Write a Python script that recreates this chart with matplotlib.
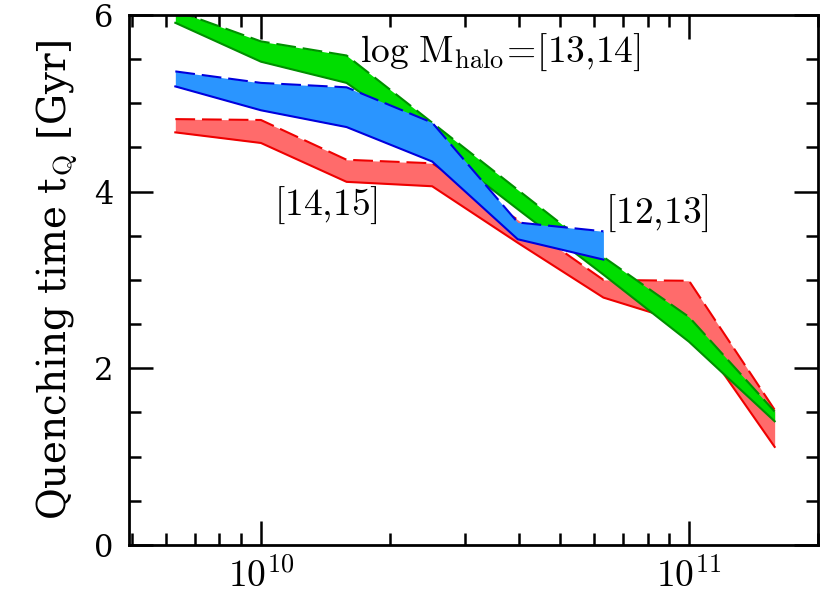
# Quenching time vs stellar mass for three halo mass bins.

import matplotlib
matplotlib.use('Agg')
import numpy as np
import matplotlib.pyplot as plt
from matplotlib.ticker import FixedLocator, NullFormatter, FuncFormatter

plt.rcParams['mathtext.fontset'] = 'cm'
plt.rcParams['font.family'] = 'DejaVu Serif'

# stellar mass bin centres (log spacing of 0.2 dex)
mstar = [6.31e9, 1.0e10, 1.585e10, 2.512e10, 3.981e10, 6.31e10, 1.0e11, 1.585e11]

# log Mhalo = [14,15]
red_lo = [4.67, 4.55, 4.11, 4.06, 3.42, 2.80, 2.50, 1.11]
red_hi = [4.82, 4.81, 4.36, 4.32, 3.68, 3.00, 2.99, 1.53]

# log Mhalo = [13,14]
green_lo = [5.91, 5.47, 5.23, 4.55, 3.80, 3.06, 2.30, 1.40]
green_hi = [6.05, 5.70, 5.54, 4.78, 4.02, 3.26, 2.58, 1.51]

# log Mhalo = [12,13]
blue_m = mstar[:6]
blue_lo = [5.19, 4.92, 4.73, 4.34, 3.46, 3.23]
blue_hi = [5.36, 5.23, 5.18, 4.78, 3.65, 3.55]

bands = [
    (mstar, red_lo, red_hi, '#ff6b6b', '#ee0000'),
    (mstar, green_lo, green_hi, '#00dd00', '#008f00'),
    (blue_m, blue_lo, blue_hi, '#2a95ff', '#0000dd'),
]

fig = plt.figure(figsize=(8.22, 5.99), dpi=100)
ax = fig.add_axes([0.157, 0.0902, 0.838, 0.885])

# each band (fill + edges) is drawn over the previous one
for i, (x, lo, hi, fill, line) in enumerate(bands):
    z = 2 + 3 * i
    ax.fill_between(x, lo, hi, color=fill, linewidth=0, zorder=z)
    ax.plot(x, lo, color=line, linewidth=1.5, zorder=z + 1)
    ax.plot(x, hi, color=line, linewidth=1.5, dashes=(9.5, 3.3), zorder=z + 1)

ax.set_xscale('log')
ax.set_xlim(4.92e9, 2.0e11)
ax.set_ylim(0, 6)

ax.xaxis.set_major_locator(FixedLocator([1e10, 1e11]))
ax.xaxis.set_minor_locator(FixedLocator(
    [k * 1e9 for k in range(5, 10)] + [k * 1e10 for k in range(2, 10)]
    + [2e11]))
ax.xaxis.set_major_formatter(
    FuncFormatter(lambda v, p: r'$10^{%d}$' % round(np.log10(v))))
ax.xaxis.set_minor_formatter(NullFormatter())
ax.yaxis.set_major_locator(FixedLocator([0, 2, 4, 6]))
ax.yaxis.set_minor_locator(FixedLocator(np.arange(0, 6.01, 0.5)))
ax.yaxis.set_major_formatter(FuncFormatter(lambda v, p: '%d' % v))

ax.tick_params(which='both', direction='in', top=True, right=True,
               width=1.8, colors='black')
ax.tick_params(which='major', length=17, labelsize=22)
ax.tick_params(which='minor', length=8.5)
ax.tick_params(axis='x', which='major', pad=10, labelsize=27)
ax.tick_params(axis='y', which='major', pad=11)
for sp in ax.spines.values():
    sp.set_linewidth(2.0)
for ln in ax.spines.values():
    ln.set_zorder(20)

ax.set_ylabel(r'Quenching time t$_{\rm Q}$ [Gyr]', fontsize=28, labelpad=10)

ax.text(1.70e10, 5.58, r'$\log\,{\rm M_{halo}\!=\![13{,}14]}$',
        fontsize=27, ha='left', va='center')
ax.text(1.07e10, 3.84, r'$\rm [14{,}15]$', fontsize=27, ha='left', va='center')
ax.text(6.35e10, 3.75, r'$\rm [12{,}13]$', fontsize=27, ha='left', va='center')

fig.savefig('out.png', dpi=100)
